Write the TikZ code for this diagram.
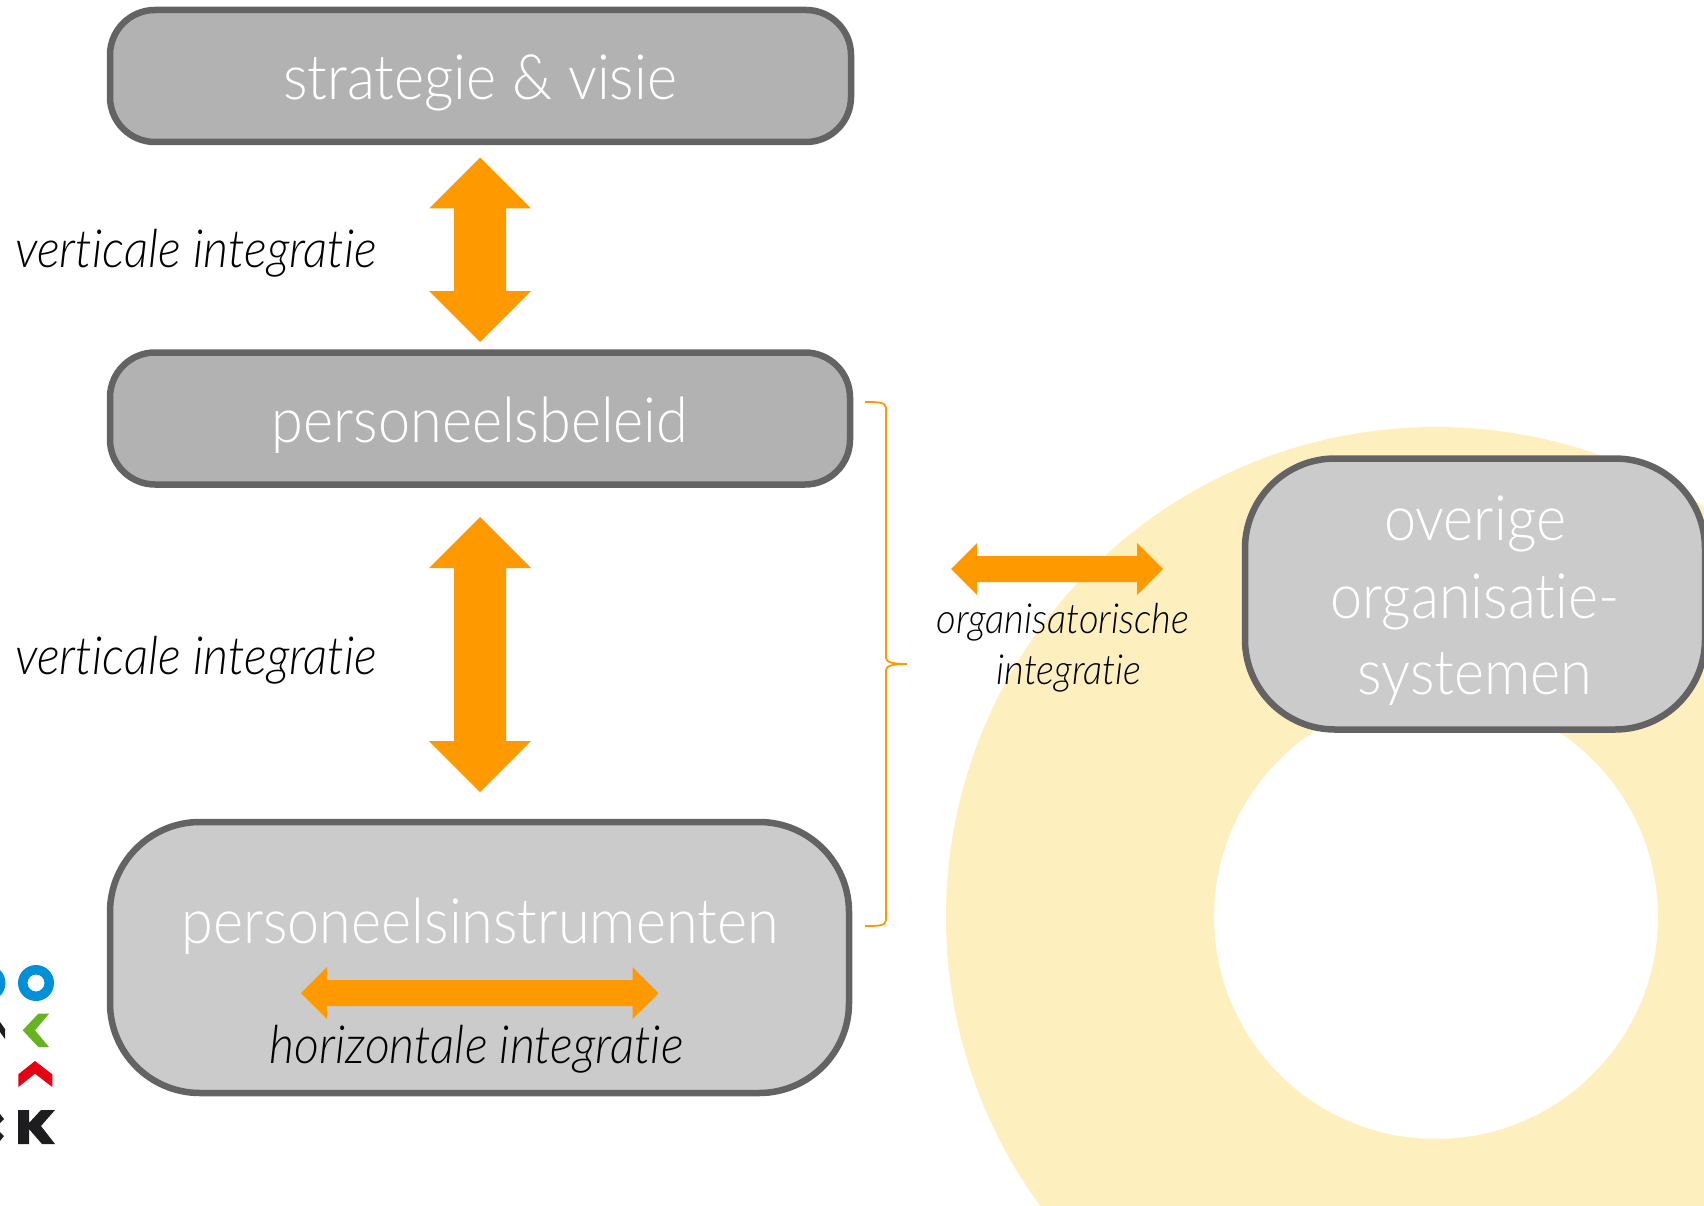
\documentclass[tikz,border=0pt]{standalone}
\usepackage{fontspec}
\setmainfont{Lato}[UprightFont={* Light},ItalicFont={* Light Italic},BoldFont={*},FakeStretch=0.92,Ligatures=NoCommon,Contextuals=NoAlternate]
\usetikzlibrary{calc}
\definecolor{boxdark}{HTML}{B2B2B2}
\definecolor{boxlight}{HTML}{CBCBCB}
\definecolor{boxline}{HTML}{636363}
\definecolor{fatarrow}{HTML}{FF9900}
\definecolor{donut}{HTML}{FEEFBF}
\definecolor{lblue}{HTML}{0090D8}
\definecolor{lgreen}{HTML}{65B320}
\definecolor{lred}{HTML}{E60012}
\definecolor{lblack}{HTML}{1D1D1F}
\newcommand\fatv[2]{\path[fill=fatarrow] let \p1=(#1),\p2=(#2) in
  (\x1,\y1) -- (\x1+51pt,\y1-51pt) -- (\x1+26pt,\y1-51pt) -- (\x1+26pt,\y2+51pt) -- (\x1+51pt,\y2+51pt) --
  (\x1,\y2) -- (\x1-51pt,\y2+51pt) -- (\x1-26pt,\y2+51pt) -- (\x1-26pt,\y1-51pt) -- (\x1-51pt,\y1-51pt) -- cycle;}
\newcommand\fath[2]{\path[fill=fatarrow] let \p1=(#1),\p2=(#2) in
  (\x1,\y1) -- (\x1+26pt,\y1+26pt) -- (\x1+26pt,\y1+13pt) -- (\x2-26pt,\y1+13pt) -- (\x2-26pt,\y1+26pt) --
  (\x2,\y1) -- (\x2-26pt,\y1-26pt) -- (\x2-26pt,\y1-13pt) -- (\x1+26pt,\y1-13pt) -- (\x1+26pt,\y1-26pt) -- cycle;}
\tikzset{
  x=1pt,y=-1pt,
  panel/.style={draw=boxline,line width=6.5pt,outer sep=0pt,inner sep=0pt},
  title/.style={text=white,anchor=base,font=\fontsize{62.6}{62.6}\selectfont,inner sep=0pt},
  note/.style={text=black,anchor=base,inner sep=0pt},
  bignote/.style={note,font=\itshape\fontsize{52.6}{52.6}\selectfont},
  smallnote/.style={note,font=\itshape\fontsize{41.5}{41.5}\selectfont},
}
\begin{document}
\begin{tikzpicture}
\useasboundingbox (0,0) rectangle (1704,1206);
\begin{scope}
\clip (0,0) rectangle (1704,1206);
\fill[donut,even odd rule] (1436,917) circle[radius=490] (1436,917) circle[radius=222];
\end{scope}
% boxes
\node[panel,fill=boxdark,rounded corners=45pt,minimum width=741pt,minimum height=132pt] (strategie) at (480.5,76) {};
\node[panel,fill=boxdark,rounded corners=45pt,minimum width=740pt,minimum height=132pt] (beleid) at (480,418.5) {};
\node[panel,fill=boxlight,rounded corners=90pt,minimum width=739pt,minimum height=271pt] (instr) at (479.5,957.5) {};
\node[panel,fill=boxlight,rounded corners=90pt,minimum width=460pt,minimum height=271pt] (overig) at (1475,594) {};
% texts
\node[title] (t1) at (480,100) {strategie \& visie};
\node[title] (t2) at (480,442) {personeelsbeleid};
\node[title] (t3) at (480,943) {personeelsinstrumenten};
\node[title] (t4a) at (1475,540) {overige};
\node[title] (t4b) at (1475,618) {organisatie-};
\node[title] (t4c) at (1475,694) {systemen};
\node[bignote] (v1) at (196,268) {verticale integratie};
\node[bignote] (v2) at (196,674) {verticale integratie};
\node[bignote] (h) at (476.5,1063) {horizontale integratie};
\node[smallnote] (o1) at (1063,633) {organisatorische};
\node[smallnote] (o2) at (1069,684) {integratie};
% fat arrows
\coordinate (a1t) at (480,157.5); \coordinate (a1b) at (480,342);
\coordinate (a2t) at (480,517); \coordinate (a2b) at (480,792);
\coordinate (h1l) at (301,993); \coordinate (h1r) at (658.5,993);
\coordinate (h2l) at (951,569); \coordinate (h2r) at (1163,569);
\fatv{a1t}{a1b}
\fatv{a2t}{a2b}
\fath{h1l}{h1r}
\fath{h2l}{h2r}
% brace
\coordinate (bt) at (865,402); \coordinate (bb) at (865,926); \coordinate (bm) at (907,664);
\draw[fatarrow,line width=1.8pt]
  (bt) .. controls (878,402) and (886,402) .. (886,408) -- (886,658)
  .. controls (886,662) and (892,664) .. (bm)
  .. controls (892,664) and (886,666) .. (886,670) -- (886,920)
  .. controls (886,926) and (878,926) .. (bb);
% logo fragments
\begin{scope}[yshift=-1pt]
\fill[lblue,even odd rule] (36,982) circle[radius=18] (36,982) circle[radius=8.5];
\begin{scope}
\clip (0,950) rectangle (10,1010);
\fill[lblue,even odd rule] (-12.5,982) circle[radius=18] (-12.5,982) circle[radius=8.5];
\end{scope}
\fill[lgreen] (22.7,1029.3) -- (38.3,1012.7) -- (49,1012.7) -- (35,1029.3) -- (49,1046) -- (38.3,1046) -- cycle;
\fill[lred] (35,1060) -- (52.3,1073.3) -- (52.3,1086) -- (35,1072.7) -- (18.3,1086) -- (18.3,1073.3) -- cycle;
\fill[lblack] (0,1021) -- (5,1028) -- (5,1038) -- (0,1031) -- cycle;
\fill[lblack] (0,1113) -- (4,1118) -- (0,1122) -- cycle;
\fill[lblack] (0,1131) -- (4,1135) -- (0,1140) -- cycle;
\fill[lblack] (18,1109) -- (29,1109) -- (29,1122) -- (41,1109) -- (55,1109) -- (41,1125) -- (55,1143) -- (42,1143) -- (29,1128) -- (29,1143) -- (18,1143) -- cycle;
\end{scope}
\end{tikzpicture}
\end{document}
